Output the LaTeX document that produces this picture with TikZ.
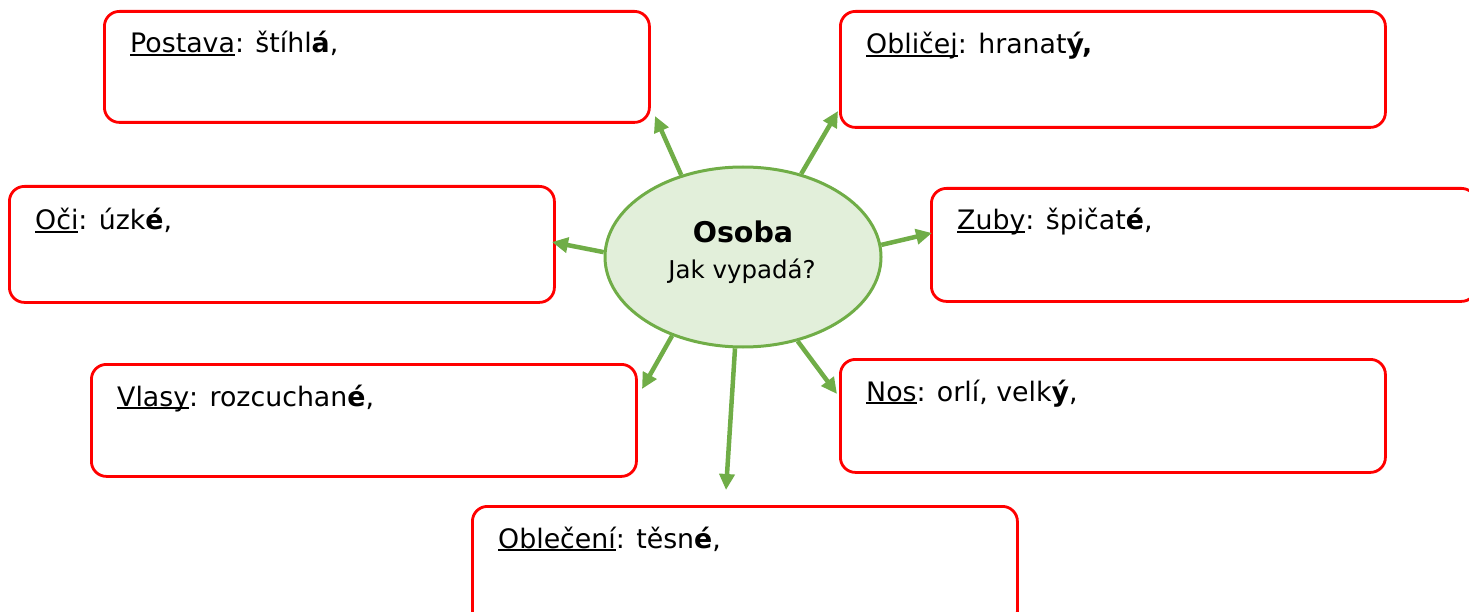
\documentclass[tikz,border=0pt]{standalone}
\usepackage{fontspec}
\setmainfont{DejaVu Sans}
\usetikzlibrary{arrows.meta,shapes.geometric}
\definecolor{gline}{HTML}{70AD47}
\definecolor{gfill}{HTML}{E2EFDA}
\definecolor{rline}{HTML}{FF0000}
\newcommand\myul[1]{\setbox0\hbox{#1}\rlap{\rule[-3.2pt]{\wd0}{1.8pt}}\box0}
\tikzset{
  box/.style={draw=rline, line width=2.8pt, rounded corners=15pt, anchor=north west, inner sep=0pt},
  lbl/.style={anchor=base west, inner sep=0pt, font=\fontsize{26.8}{31}\selectfont},
  arr/.style={draw=gline, line width=4.5pt, -{Triangle[length=16pt,width=15pt]}, shorten >=0pt},
}
\begin{document}
\begin{tikzpicture}[x=1pt,y=-1pt]
\useasboundingbox (0,0) rectangle (1469,612);
\clip (0,0) rectangle (1469,612);
% boxes
\node[box, minimum width=545pt, minimum height=111pt] (postava) at (103,10) {};
\node[box, minimum width=545pt, minimum height=116pt] (oblicej) at (839,10) {};
\node[box, minimum width=545pt, minimum height=116pt] (oci) at (8,185) {};
\node[box, minimum width=545pt, minimum height=113pt] (zuby) at (930,187) {};
\node[box, minimum width=545pt, minimum height=112pt] (vlasy) at (90,363) {};
\node[box, minimum width=545pt, minimum height=113pt] (nos) at (839,358) {};
\node[box, minimum width=545pt, minimum height=120pt] (obleceni) at (471,505) {};
% labels
\node[lbl] (tpostava) at (130,53) {\myul{Postava}: štíhl\textbf{á},};
\node[lbl] (toblicej) at (866,54) {\myul{Obličej}: hranat\textbf{ý,}};
\node[lbl] (toci) at (35,230) {\myul{Oči}: úzk\textbf{é},};
\node[lbl] (tzuby) at (957,230) {\myul{Zuby}: špičat\textbf{é},};
\node[lbl] (tvlasy) at (117,406) {\myul{Vlasy}: rozcuchan\textbf{é},};
\node[lbl] (tnos) at (866,401) {\myul{Nos}: orlí, velk\textbf{ý},};
\node[lbl] (tobleceni) at (498,548) {\myul{Oblečení}: těsn\textbf{é},};
% centre
\node[ellipse, draw=gline, fill=gfill, line width=3pt, minimum width=276pt, minimum height=180pt, inner sep=0pt] (c) at (743,257) {};
\node[anchor=base, inner sep=0pt, font=\fontsize{28.5}{33}\selectfont\bfseries] (osoba) at (743,243) {Osoba};
\node[anchor=base, inner sep=0pt, font=\fontsize{24.5}{29}\selectfont] (jak) at (742,279) {Jak vypadá?};
% arrow ends
\coordinate (ePostava) at (655,116);
\coordinate (eOblicej) at (838,111);
\coordinate (eOci) at (552,242);
\coordinate (eZuby) at (932,233);
\coordinate (eVlasy) at (642,389);
\coordinate (eObleceni) at (726,490);
\coordinate (eNos) at (837,394);
\draw[arr] (c.127.3) -- (ePostava);
\draw[arr] (c.55.6) -- (eOblicej);
\draw[arr] (c.178) -- (eOci);
\draw[arr] (c.5.4) -- (eZuby);
\draw[arr] (c.228.8) -- (eVlasy);
\draw[arr] (c.265.6) -- (eObleceni);
\draw[arr] (c.303.7) -- (eNos);
\end{tikzpicture}
\end{document}
